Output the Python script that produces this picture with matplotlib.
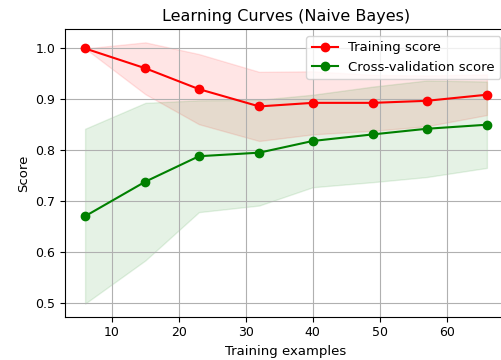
import numpy as np
import matplotlib
matplotlib.use('Agg')
import matplotlib.pyplot as plt

train_sizes = [6, 15, 23, 32, 40, 49, 57, 66]
train_mean = [1.000, 0.961, 0.920, 0.886, 0.893, 0.893, 0.897, 0.909]
train_std = [0.000, 0.051, 0.069, 0.068, 0.062, 0.055, 0.050, 0.040]
test_mean = [0.670, 0.738, 0.788, 0.795, 0.818, 0.831, 0.842, 0.850]
test_std = [0.172, 0.155, 0.110, 0.104, 0.091, 0.094, 0.095, 0.085]


def plot_learning_curve(title):
	fig = plt.figure(figsize=(5.02, 3.6), dpi=100)
	ax = fig.add_axes([65 / 502, 43.3 / 360, 442 / 502, 287.4 / 360])
	sizes = np.array(train_sizes)
	tr_m, tr_s = np.array(train_mean), np.array(train_std)
	te_m, te_s = np.array(test_mean), np.array(test_std)
	ax.grid()
	ax.fill_between(sizes, tr_m - tr_s, tr_m + tr_s, alpha=0.1, color='r')
	ax.fill_between(sizes, te_m - te_s, te_m + te_s, alpha=0.1, color='g')
	ax.plot(sizes, tr_m, 'o-', color='r', label='Training score')
	ax.plot(sizes, te_m, 'o-', color='g', label='Cross-validation score')
	ax.set_title(title, fontsize=11.5)
	ax.set_xlabel('Training examples', fontsize=9.5)
	ax.set_ylabel('Score', fontsize=9.5)
	ax.tick_params(labelsize=9)
	ax.legend(loc='upper right', fontsize=9.5)
	return fig


if __name__ == '__main__':
	fig = plot_learning_curve('Learning Curves (Naive Bayes)')
	fig.savefig('out.png', dpi=100)
